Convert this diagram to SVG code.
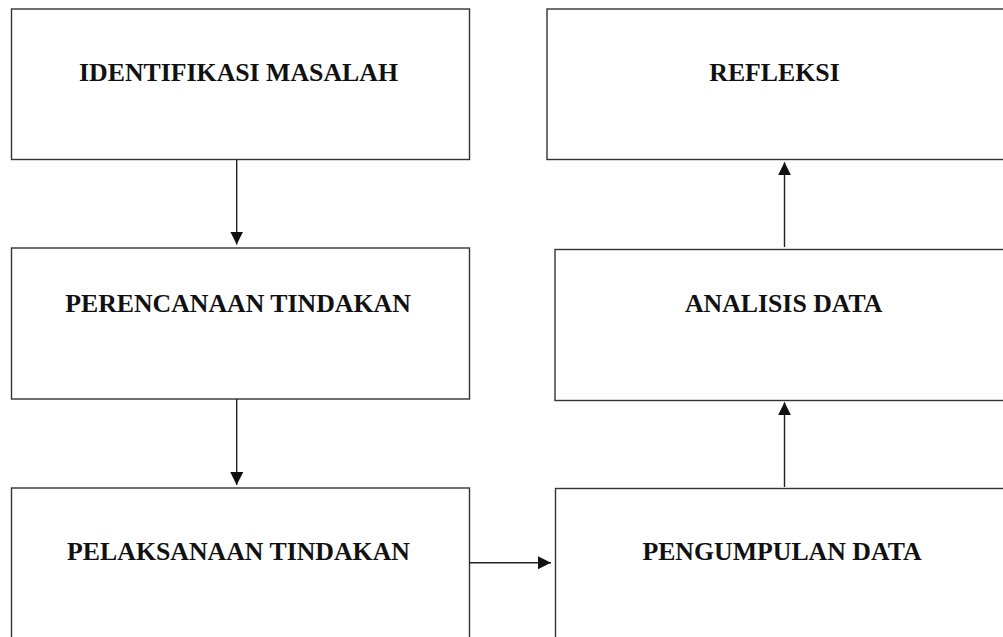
<svg xmlns="http://www.w3.org/2000/svg" width="1003" height="637" viewBox="0 0 1003 637">
<style>
.box{fill:#fff;stroke:#333;stroke-width:1.4}
.lbl{font-family:"Liberation Serif","Times New Roman",serif;font-weight:bold;font-size:25.8px;fill:#111;text-anchor:middle}
.con{stroke:#222;stroke-width:1.4;fill:none;marker-end:url(#ah)}
</style>
<defs>
<marker id="ah" markerUnits="userSpaceOnUse" markerWidth="14" markerHeight="13" refX="13" refY="6.5" orient="auto">
<path d="M0,0 L13,6.5 L0,13 z" fill="#111"/>
</marker>
</defs>
<rect width="1003" height="637" fill="#fff"/>
<g id="identifikasi">
<rect class="box" x="11.5" y="9" width="458" height="150.5"/>
<text class="lbl" x="238.5" y="81">IDENTIFIKASI MASALAH</text>
</g>
<g id="perencanaan">
<rect class="box" x="11.5" y="248" width="458" height="151"/>
<text class="lbl" x="238" y="312.3">PERENCANAAN TINDAKAN</text>
</g>
<g id="pelaksanaan">
<rect class="box" x="11.5" y="488" width="458" height="160"/>
<text class="lbl" x="238.5" y="560.3">PELAKSANAAN TINDAKAN</text>
</g>
<g id="refleksi">
<rect class="box" x="547" y="9" width="458" height="150.5"/>
<text class="lbl" x="774.5" y="81">REFLEKSI</text>
</g>
<g id="analisis">
<rect class="box" x="555" y="249.5" width="458" height="151"/>
<text class="lbl" x="783.7" y="312.3">ANALISIS DATA</text>
</g>
<g id="pengumpulan">
<rect class="box" x="555.5" y="488.5" width="458" height="160"/>
<text class="lbl" x="782" y="560.3">PENGUMPULAN DATA</text>
</g>
<g id="connectors">
<line class="con" x1="236.7" y1="159.5" x2="236.7" y2="244.5"/>
<line class="con" x1="236.7" y1="399" x2="236.7" y2="485"/>
<line class="con" x1="469.5" y1="562.7" x2="551" y2="562.7"/>
<line class="con" x1="784.5" y1="487" x2="784.5" y2="402.3"/>
<line class="con" x1="784.5" y1="247" x2="784.5" y2="162.3"/>
</g>
</svg>
